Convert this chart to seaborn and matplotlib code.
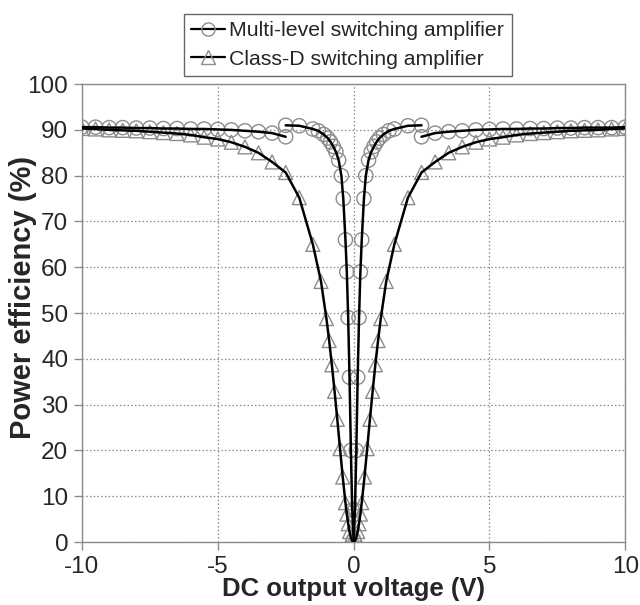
import numpy as np
import pandas as pd
import matplotlib
matplotlib.use("Agg")
import matplotlib.pyplot as plt
from matplotlib.lines import Line2D
import seaborn as sns

# multi-level switching amplifier: inner branch (|V| <= 2.5) and outer branches
ml_inner_v = [-2.5, -2.0, -1.5, -1.3, -1.1, -0.95, -0.85, -0.75, -0.65, -0.55, -0.45, -0.38, -0.3, -0.25,
              -0.2, -0.15, -0.1, -0.05, 0.0,
              0.05, 0.1, 0.15, 0.2, 0.25, 0.3, 0.38, 0.45, 0.55, 0.65, 0.75, 0.85, 0.95, 1.1, 1.3, 1.5, 2.0, 2.5]
ml_inner_eff = [91.0, 90.9, 90.2, 89.8, 89.0, 88.2, 87.4, 86.4, 85.2, 83.4, 80.0, 75.0, 66.0, 59.0,
                49.0, 36.0, 20.0, 7.0, 0.5,
                7.0, 20.0, 36.0, 49.0, 59.0, 66.0, 75.0, 80.0, 83.4, 85.2, 86.4, 87.4, 88.2, 89.0, 89.8, 90.2, 90.9, 91.0]
ml_left_v = [-10.0, -9.5, -9.0, -8.5, -8.0, -7.5, -7.0, -6.5, -6.0, -5.5, -5.0, -4.5, -4.0, -3.5, -3.0, -2.5]
ml_left_eff = [90.6, 90.6, 90.5, 90.5, 90.4, 90.4, 90.3, 90.3, 90.2, 90.2, 90.1, 90.0, 89.8, 89.6, 89.3, 88.5]
ml_right_v = [2.5, 3.0, 3.5, 4.0, 4.5, 5.0, 5.5, 6.0, 6.5, 7.0, 7.5, 8.0, 8.5, 9.0, 9.5, 10.0]
ml_right_eff = [88.5, 89.3, 89.6, 89.8, 90.0, 90.1, 90.2, 90.2, 90.3, 90.3, 90.4, 90.4, 90.5, 90.5, 90.5, 90.6]

# class-D switching amplifier
cd_v = [-10.0, -9.5, -9.0, -8.5, -8.0, -7.5, -7.0, -6.5, -6.0, -5.5, -5.0, -4.5, -4.0, -3.5, -3.0, -2.5,
        -2.0, -1.5, -1.2, -1.0, -0.9, -0.8, -0.7, -0.6, -0.5, -0.4, -0.3, -0.25, -0.2, -0.15, -0.1, -0.05,
        0.0,
        0.05, 0.1, 0.15, 0.2, 0.25, 0.3, 0.4, 0.5, 0.6, 0.7, 0.8, 0.9, 1.0, 1.2, 1.5, 2.0,
        2.5, 3.0, 3.5, 4.0, 4.5, 5.0, 5.5, 6.0, 6.5, 7.0, 7.5, 8.0, 8.5, 9.0, 9.5, 10.0]
cd_eff = [90.3, 90.2, 90.0, 89.9, 89.8, 89.6, 89.4, 89.2, 88.9, 88.4, 88.0, 87.3, 86.3, 85.0, 83.0, 80.7,
          75.2, 65.0, 56.9, 48.8, 44.0, 38.7, 32.9, 26.8, 20.4, 14.2, 8.6, 6.1, 4.0, 2.3, 1.0, 0.3,
          0.0,
          0.3, 1.0, 2.3, 4.0, 6.1, 8.6, 14.2, 20.4, 26.8, 32.9, 38.7, 44.0, 48.8, 56.9, 65.0, 75.2,
          80.7, 83.0, 85.0, 86.3, 87.3, 88.0, 88.4, 88.9, 89.2, 89.4, 89.6, 89.8, 89.9, 90.0, 90.2, 90.3]

x_ticks = [-10, -5, 0, 5, 10]
y_ticks = list(range(0, 101, 10))

sns.set_style("ticks")
plt.rcParams['font.family'] = ['Liberation Sans', 'DejaVu Sans']
plt.rcParams['axes.unicode_minus'] = False

fig, ax = plt.subplots(figsize=(6.4, 6.05), dpi=100)
fig.subplots_adjust(left=0.128, right=0.977, top=0.861, bottom=0.104)

grey = '#8c8c8c'
ml_df = pd.DataFrame({'V': ml_left_v + ml_inner_v + ml_right_v,
                      'eff': ml_left_eff + ml_inner_eff + ml_right_eff,
                      'seg': ['l'] * len(ml_left_v) + ['i'] * len(ml_inner_v) + ['r'] * len(ml_right_v)})
cd_df = pd.DataFrame({'V': cd_v, 'eff': cd_eff})

# open markers first, black curves on top
sns.scatterplot(data=ml_df, x='V', y='eff', ax=ax, marker='o', s=105,
                facecolor='none', edgecolor=grey, linewidth=1.0, zorder=3)
sns.scatterplot(data=cd_df, x='V', y='eff', ax=ax, marker='^', s=100,
                facecolor='none', edgecolor=grey, linewidth=1.0, zorder=3)
for seg, d in ml_df.groupby('seg'):
    sns.lineplot(data=d, x='V', y='eff', ax=ax, color='black', lw=1.8,
                 sort=False, estimator=None, zorder=4)
sns.lineplot(data=cd_df, x='V', y='eff', ax=ax, color='black', lw=1.8,
             sort=False, estimator=None, zorder=4)

ax.set_xlim(-10, 10)
ax.set_ylim(0, 100)
ax.set_xticks(x_ticks)
ax.set_yticks(y_ticks)
ax.grid(True, color='#8a8a8a', linestyle=(0, (1.2, 1.8)), linewidth=0.9)
for s in ax.spines.values():
    s.set_color(grey)
    s.set_linewidth(1.0)
ax.tick_params(axis='both', direction='out', length=5.8, width=1.0, color=grey,
               labelsize=17.5, pad=4)
ax.set_xlabel('DC output voltage (V)', fontsize=18.5, fontweight='bold')
ax.set_ylabel('Power efficiency (%)', fontsize=21, fontweight='bold')
ax.xaxis.set_label_coords(0.5, -0.077)
ax.yaxis.set_label_coords(-0.082, 0.535)

handles = [Line2D([], [], color='black', lw=1.6, marker='o', ms=9.5, mfc='none', mec=grey),
           Line2D([], [], color='black', lw=1.6, marker='^', ms=9.5, mfc='none', mec=grey)]
leg = fig.legend(handles, ['Multi-level switching amplifier', 'Class-D switching amplifier'],
                 loc='center', bbox_to_anchor=(0.543, 0.926), fontsize=15.3,
                 frameon=True, fancybox=False, framealpha=1, edgecolor='#666666',
                 handlelength=1.6, handletextpad=0.2, borderpad=0.35, labelspacing=0.45,
                 borderaxespad=0)
leg.get_frame().set_linewidth(1.0)

fig.savefig('out.png', dpi=100)
